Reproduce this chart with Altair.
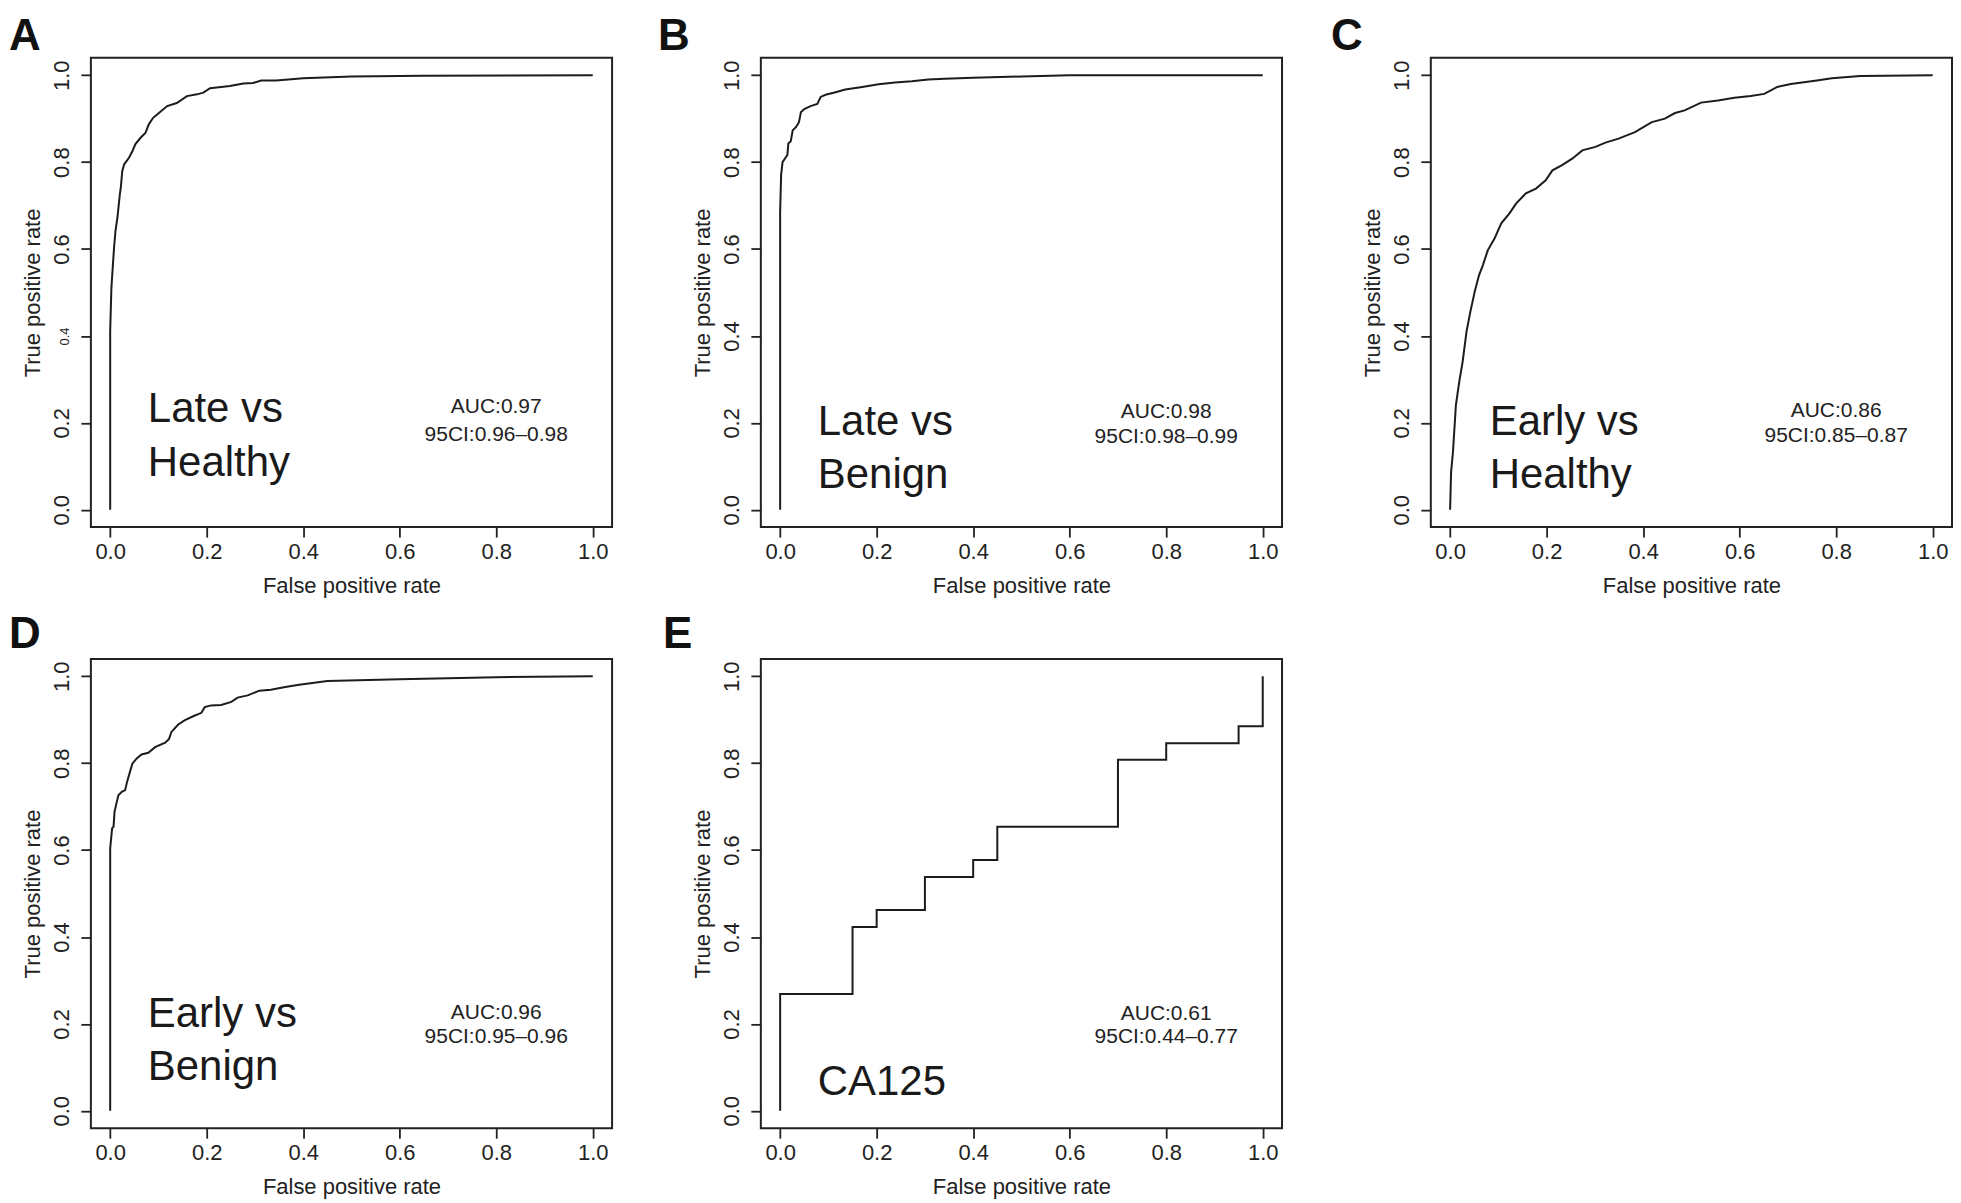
import altair as alt
import pandas as pd

FONT = "Liberation Sans"
INK = "#222222"

tick_values = [0.0, 0.2, 0.4, 0.6, 0.8, 1.0]

# ---- ROC curve data ----
fpr_A = [0.0, 0.0, 0.0025, 0.008, 0.011, 0.015, 0.020, 0.022, 0.025, 0.029, 0.039, 0.046,
         0.052, 0.063, 0.073, 0.080, 0.089, 0.101, 0.118, 0.138, 0.159, 0.180, 0.193, 0.207,
         0.248, 0.276, 0.296, 0.313, 0.344, 0.40, 0.50, 0.65, 1.0]
tpr_A = [0.0, 0.41, 0.51, 0.603, 0.642, 0.672, 0.726, 0.741, 0.779, 0.795, 0.810, 0.825,
         0.841, 0.856, 0.867, 0.887, 0.902, 0.913, 0.929, 0.936, 0.952, 0.956, 0.960, 0.970,
         0.975, 0.981, 0.982, 0.988, 0.988, 0.993, 0.997, 0.999, 1.0]

fpr_B = [0.0, 0.0, 0.002, 0.005, 0.011, 0.015, 0.017, 0.022, 0.026, 0.033, 0.039, 0.043,
         0.050, 0.063, 0.077, 0.084, 0.094, 0.115, 0.135, 0.170, 0.204, 0.238, 0.273, 0.307,
         0.341, 0.40, 0.50, 0.60, 1.0]
tpr_B = [0.0, 0.686, 0.770, 0.800, 0.810, 0.816, 0.843, 0.848, 0.873, 0.881, 0.892, 0.915,
         0.922, 0.929, 0.934, 0.950, 0.955, 0.961, 0.967, 0.973, 0.979, 0.983, 0.986, 0.990,
         0.992, 0.994, 0.997, 1.0, 1.0]

fpr_C = [0.0, 0.002, 0.006, 0.012, 0.019, 0.026, 0.034, 0.042, 0.051, 0.060, 0.068, 0.078,
         0.092, 0.106, 0.123, 0.137, 0.157, 0.178, 0.198, 0.212, 0.232, 0.253, 0.274, 0.301,
         0.322, 0.349, 0.383, 0.418, 0.445, 0.466, 0.486, 0.520, 0.555, 0.589, 0.623, 0.651,
         0.678, 0.706, 0.733, 0.760, 0.791, 0.85, 0.90, 1.0]
tpr_C = [0.0, 0.086, 0.134, 0.241, 0.295, 0.341, 0.410, 0.456, 0.502, 0.540, 0.563, 0.597,
         0.624, 0.659, 0.682, 0.705, 0.728, 0.739, 0.758, 0.781, 0.793, 0.808, 0.827, 0.835,
         0.845, 0.854, 0.869, 0.892, 0.900, 0.913, 0.919, 0.937, 0.942, 0.948, 0.952, 0.957,
         0.973, 0.980, 0.984, 0.988, 0.993, 0.998, 0.999, 1.0]

fpr_D = [0.0, 0.0, 0.004, 0.007, 0.009, 0.012, 0.017, 0.024, 0.031, 0.035, 0.042, 0.046,
         0.055, 0.065, 0.079, 0.093, 0.114, 0.122, 0.127, 0.141, 0.155, 0.172, 0.189, 0.196,
         0.209, 0.230, 0.251, 0.264, 0.285, 0.309, 0.333, 0.360, 0.388, 0.45, 0.60, 0.80, 1.0]
tpr_D = [0.0, 0.604, 0.650, 0.654, 0.688, 0.703, 0.726, 0.734, 0.738, 0.757, 0.784, 0.799,
         0.811, 0.820, 0.824, 0.837, 0.847, 0.856, 0.872, 0.889, 0.899, 0.908, 0.916, 0.929,
         0.933, 0.934, 0.941, 0.951, 0.956, 0.967, 0.969, 0.975, 0.980, 0.989, 0.993, 0.998, 1.0]

# CA125: stepwise ROC
fpr_E = [0.0, 0.0, 0.15, 0.20, 0.30, 0.40, 0.45, 0.70, 0.80, 0.95, 1.0]
tpr_E = [0.0, 0.269, 0.423, 0.462, 0.538, 0.577, 0.654, 0.808, 0.846, 0.885, 1.0]

# ---- Text content ----
letters = ["A", "B", "C", "D", "E"]
group_labels = [["Late vs", "Healthy"], ["Late vs", "Benign"], ["Early vs", "Healthy"],
                ["Early vs", "Benign"], ["CA125"]]
auc_labels = [["AUC:0.97", "95CI:0.96\u20130.98"], ["AUC:0.98", "95CI:0.98\u20130.99"],
              ["AUC:0.86", "95CI:0.85\u20130.87"], ["AUC:0.96", "95CI:0.95\u20130.96"],
              ["AUC:0.61", "95CI:0.44\u20130.77"]]

# ---- Annotation placement (data units) and letter placement ----
label_x = [0.078, 0.078, 0.082, 0.078, 0.078]
label_y = [[0.203, 0.078], [0.171, 0.050], [0.171, 0.050], [0.192, 0.070], [0.036]]
auc_x = 0.80
auc_y = [[0.223, 0.158], [0.21, 0.153], [0.213, 0.156], [0.212, 0.157], [0.21, 0.157]]
letter_dx = [-82, -103, -100, -82, -98]
letter_offset = [-36.5, -36.5, -36.5, -33, -33]

curves = [(fpr_A, tpr_A), (fpr_B, tpr_B), (fpr_C, tpr_C), (fpr_D, tpr_D), (fpr_E, tpr_E)]

W, H = 522, 470


def make_panel(k):
    fpr, tpr = curves[k]
    df = pd.DataFrame({"fpr": fpr, "tpr": tpr, "i": list(range(len(fpr)))})
    xs = alt.Scale(domain=[-0.04, 1.04], nice=False, zero=False)
    ys = alt.Scale(domain=[-0.04, 1.04], nice=False, zero=False)
    if k == 0:
        yfs = {"condition": {"test": "abs(datum.value - 0.4) < 0.001", "value": 13}, "value": 22}
    else:
        yfs = 22
    xaxis = alt.Axis(values=tick_values, format=".1f", title="False positive rate",
                     labelPadding=4, titlePadding=13, labelFlush=False)
    yaxis = alt.Axis(values=tick_values, format=".1f", title="True positive rate",
                     labelAngle=-90, labelAlign="center", labelBaseline="alphabetic",
                     labelPadding=12, titlePadding=6, labelFlush=False, labelFontSize=yfs)
    xenc = alt.X("fpr:Q", scale=xs, axis=xaxis)
    yenc = alt.Y("tpr:Q", scale=ys, axis=yaxis)

    line = alt.Chart(df).mark_line(
        color="#1c1c1c", strokeWidth=2,
        interpolate="step-after" if k == 4 else "linear"
    ).encode(x=xenc, y=yenc, order="i:Q")

    lab_df = pd.DataFrame({"fpr": [label_x[k]] * len(group_labels[k]),
                           "tpr": label_y[k], "t": group_labels[k]})
    lab = alt.Chart(lab_df).mark_text(
        align="left", baseline="alphabetic", fontSize=42, font=FONT, color="#1a1a1a"
    ).encode(x=xenc, y=yenc, text="t:N")

    auc_df = pd.DataFrame({"fpr": [auc_x] * 2, "tpr": auc_y[k], "t": auc_labels[k]})
    auc = alt.Chart(auc_df).mark_text(
        align="center", baseline="alphabetic", fontSize=21, font=FONT, color=INK
    ).encode(x=xenc, y=yenc, text="t:N")

    return alt.layer(line, lab, auc).properties(
        width=W, height=H,
        title=alt.TitleParams(letters[k], anchor="start", frame="group", dx=letter_dx[k],
                              offset=letter_offset[k], baseline="alphabetic", fontSize=44,
                              fontWeight="bold", font=FONT, color="#111111"),
    )


panels = [make_panel(k) for k in range(5)]

chart = alt.concat(*panels, columns=3, spacing={"row": 132, "column": 149}, bounds="flush").properties(
    padding={"left": 0, "top": 5, "right": 0, "bottom": 0}
).configure_view(
    stroke=INK, strokeWidth=2
).configure_axis(
    grid=False, domain=False, tickColor=INK, tickSize=10, tickWidth=1.8,
    labelFont=FONT, labelFontSize=22, labelColor=INK,
    titleFont=FONT, titleFontSize=22, titleFontWeight="normal", titleColor=INK,
)

chart.save("out.html", embed_options={"renderer": "svg", "actions": False})
